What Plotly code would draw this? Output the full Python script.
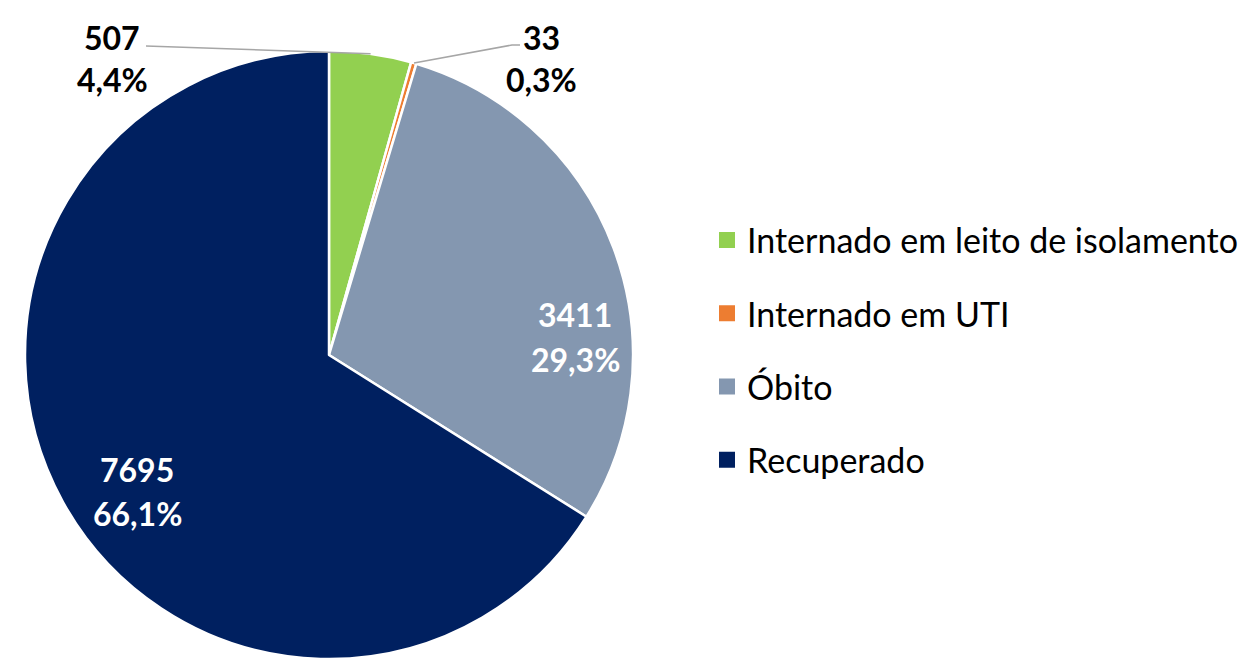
import math
import plotly.graph_objects as go

# ---- data ----
categories = ["Internado em leito de isolamento", "Internado em UTI", "Óbito", "Recuperado"]
values = [507, 33, 3411, 7695]
colors = ["#92D050", "#ED7D31", "#8497B0", "#002060"]

W, H = 1260, 659
FONT = "Lato"

# pie geometry (pixels)
CX, CY, R = 329, 356, 305

total = sum(values)
value_txt = [str(v) for v in values]
pct_txt = [f"{v / total * 100:.1f}".replace(".", ",") + "%" for v in values]

fig = go.Figure()
fig.add_trace(go.Pie(
    labels=categories, values=values, sort=False, direction="clockwise", rotation=0,
    marker=dict(colors=colors, line=dict(color="white", width=2.5)),
    textinfo="none", hoverinfo="label+value+percent", showlegend=False,
    domain=dict(x=[(CX - R) / W, (CX + R) / W], y=[max(0, 1 - (CY + R) / H), 1 - (CY - R) / H]),
))

# legend entries (one per category)
for i, (c, col) in enumerate(zip(categories, colors)):
    fig.add_trace(go.Scatter(
        x=[None], y=[None], mode="markers", name=c, legendgroup=f"g{i}",
        marker=dict(symbol="square", size=16, color=col), hoverinfo="skip",
    ))

# label positions (pixel centres of value line / percent line)
label_pos = [(112, 37, 80), (541, 37, 80), (575, 314, 360), (137, 469, 513)]
label_color = ["black", "black", "white", "white"]

def px(x):
    return x / W

def py(y):
    return 1 - y / H

annotations = []
for i in range(len(values)):
    x, y1, y2 = label_pos[i]
    for txt, yy in ((value_txt[i], y1), (pct_txt[i], y2)):
        annotations.append(dict(
            x=px(x), y=py(yy), xref="paper", yref="paper", text=f"<b>{txt}</b>",
            showarrow=False, xanchor="center", yanchor="middle",
            font=dict(family=FONT, size=32, color=label_color[i]),
        ))

# leader lines for the two small slices, ending at the slice mid-angle on the rim
cum = 0
mid_angles = []
for v in values:
    mid_angles.append((cum + v / 2) / total * 2 * math.pi)
    cum += v

def rim(i):
    a = mid_angles[i]
    return CX + R * math.sin(a), CY - R * math.cos(a)

shapes = []
gx, gy = rim(0)
shapes.append(dict(type="path", xref="paper", yref="paper",
                   path=f"M {px(146)} {py(46)} L {px(gx)} {py(gy)}",
                   line=dict(color="#A6A6A6", width=1.5)))
ox, oy = rim(1)
shapes.append(dict(type="path", xref="paper", yref="paper",
                   path=f"M {px(520)} {py(45)} L {px(512)} {py(45)} L {px(ox)} {py(oy)}",
                   line=dict(color="#A6A6A6", width=1.5)))

fig.update_layout(
    width=W, height=H, margin=dict(l=0, r=0, t=0, b=0),
    paper_bgcolor="white", plot_bgcolor="white",
    xaxis=dict(visible=False), yaxis=dict(visible=False),
    annotations=annotations, shapes=shapes,
    legend=dict(x=px(707), y=py(350), xanchor="left", yanchor="middle",
                font=dict(family=FONT, size=34, color="black"),
                tracegroupgap=26, bgcolor="rgba(0,0,0,0)"),
    showlegend=True,
)

fig.write_html("out.html")
